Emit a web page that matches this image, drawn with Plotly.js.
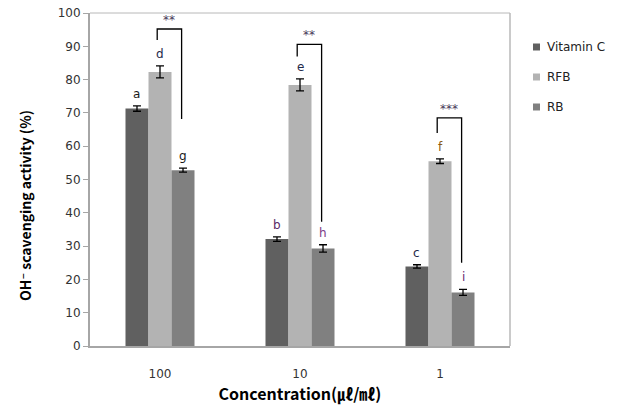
<!DOCTYPE html>
<html>
<head>
<meta charset="utf-8">
<script src="https://cdn.plot.ly/plotly-3.0.1.min.js"></script>
<style>html,body{margin:0;padding:0;background:#fff;}#chart{width:621px;height:412px;}</style>
</head>
<body>
<div id="chart"></div>
<script>
// ---- data ----
const categories = ["100", "10", "1"];
const seriesNames = ["Vitamin C", "RFB", "RB"];
const vitaminC = [71.3, 32.1, 23.9];
const vitaminCErr = [0.8, 0.7, 0.5];
const rfb = [82.3, 78.4, 55.5];
const rfbErr = [1.8, 1.8, 0.7];
const rb = [52.8, 29.3, 16.1];
const rbErr = [0.6, 1.1, 0.9];
const lettersVitC = ["a", "b", "c"];
const lettersRFB = ["d", "e", "f"];
const lettersRB = ["g", "h", "i"];
const sigStars = ["**", "**", "***"];
const bracketTop = [95.2, 90.6, 68.5];
const bracketLeftEnd = [91.9, 86.9, 64.0];
const bracketRightEnd = [68.2, 37.3, 25.0];

// ---- styles ----
const colors = ["#606060", "#b3b3b3", "#808080"];
const letterColors = [
  ["#1a1a1a", "#5a2a66", "#1f2a4a"],
  ["#1f2a4a", "#1f2a4a", "#8a5a10"],
  ["#1a1a1a", "#7a3a86", "#6a2a70"]
];
const values = [vitaminC, rfb, rb];
const errs = [vitaminCErr, rfbErr, rbErr];
const letters = [lettersVitC, lettersRFB, lettersRB];

const bargap = 0.507;
const barW = (1 - bargap) / 3;
const xIdx = categories.map((c, i) => i);

const traces = seriesNames.map((name, s) => ({
  type: "bar",
  name: name,
  x: xIdx,
  y: values[s],
  marker: {color: colors[s], line: {width: 0}},
  error_y: {type: "data", array: errs[s], visible: true, color: "#000", thickness: 1.3, width: 4},
  showlegend: false,
  hoverinfo: "none"
}));

const annotations = [];
const shapes = [];
for (let s = 0; s < 3; s++) {
  for (let i = 0; i < categories.length; i++) {
    annotations.push({
      x: i + (s - 1) * barW, y: values[s][i] + errs[s][i], xref: "x", yref: "y",
      text: letters[s][i], showarrow: false, yanchor: "bottom", yshift: 3,
      font: {family: "DejaVu Sans, sans-serif", size: 12, color: letterColors[s][i]}
    });
  }
}
for (let i = 0; i < categories.length; i++) {
  const xl = i - 0.02, xr = i + barW - 0.01;
  shapes.push({type: "path", xref: "x", yref: "y",
    path: `M ${xl} ${bracketLeftEnd[i]} L ${xl} ${bracketTop[i]} L ${xr} ${bracketTop[i]} L ${xr} ${bracketRightEnd[i]}`,
    line: {color: "#000", width: 1.3}});
  annotations.push({x: (xl + xr) / 2, y: bracketTop[i], xref: "x", yref: "y",
    text: sigStars[i], showarrow: false, yanchor: "bottom", yshift: 0,
    font: {family: "DejaVu Sans, sans-serif", size: 12, color: "#4a3a5a"}});
}
// top and right frame lines (thin, light)
shapes.push({type: "line", xref: "paper", yref: "paper", x0: 0, x1: 1, y0: 1, y1: 1,
  line: {color: "#b8b8b8", width: 1}});
shapes.push({type: "line", xref: "paper", yref: "paper", x0: 1, x1: 1, y0: 0, y1: 1,
  line: {color: "#b8b8b8", width: 1.5}});
// manual legend
const legTop = 47, legStep = 30, plotTop = 13, plotBottom = 346, plotLeft = 90, plotRight = 510;
const ph = plotBottom - plotTop, pw = plotRight - plotLeft;
seriesNames.forEach((name, s) => {
  const cy = legTop + s * legStep;
  const py = (plotBottom - cy) / ph;
  shapes.push({type: "rect", xref: "paper", yref: "paper",
    x0: (533 - plotLeft) / pw, x1: (540 - plotLeft) / pw,
    y0: py - 3.5 / ph, y1: py + 3.5 / ph,
    fillcolor: colors[s], line: {width: 0}});
  annotations.push({xref: "paper", yref: "paper", x: (545 - plotLeft) / pw, y: py,
    xanchor: "left", yanchor: "middle", showarrow: false, text: name,
    font: {family: "DejaVu Sans, sans-serif", size: 12, color: "#222"}});
});
// y-axis title
annotations.push({xref: "paper", yref: "paper", x: (25 - plotLeft) / pw, y: (plotBottom - 206) / ph,
  xanchor: "center", yanchor: "middle", showarrow: false, textangle: -90,
  text: "OH⁻ scavenging activity (%)",
  font: {family: "Noto Sans CJK KR, DejaVu Sans Condensed, sans-serif", size: 14, color: "#000", weight: "bold"}});

const layout = {
  width: 621, height: 412,
  margin: {l: plotLeft, r: 621 - plotRight, t: plotTop, b: 412 - plotBottom},
  paper_bgcolor: "#fff", plot_bgcolor: "#fff",
  barmode: "group", bargap: bargap, bargroupgap: 0,
  showlegend: false,
  xaxis: {
    range: [-0.5, 2.5], tickvals: xIdx, ticktext: categories,
    showgrid: false, zeroline: false, ticks: "", ticklabelstandoff: 16,
    showline: true, linecolor: "#a6a6a6", linewidth: 2,
    tickfont: {family: "DejaVu Sans, sans-serif", size: 12, color: "#333"},
    title: {text: "<b>Concentration(㎕/㎖)</b>", standoff: 5,
      font: {family: "Noto Sans CJK KR, DejaVu Sans Condensed, sans-serif", size: 16, color: "#000"}},
    fixedrange: true
  },
  yaxis: {
    range: [0, 100], dtick: 10, showgrid: false, zeroline: false,
    ticks: "outside", ticklen: 5, tickcolor: "#a6a6a6", tickwidth: 1,
    showline: true, linecolor: "#a6a6a6", linewidth: 2,
    tickfont: {family: "DejaVu Sans, sans-serif", size: 12, color: "#333"},
    fixedrange: true
  },
  annotations: annotations,
  shapes: shapes
};
Plotly.newPlot("chart", traces, layout, {displayModeBar: false, staticPlot: true});
</script>
</body>
</html>
